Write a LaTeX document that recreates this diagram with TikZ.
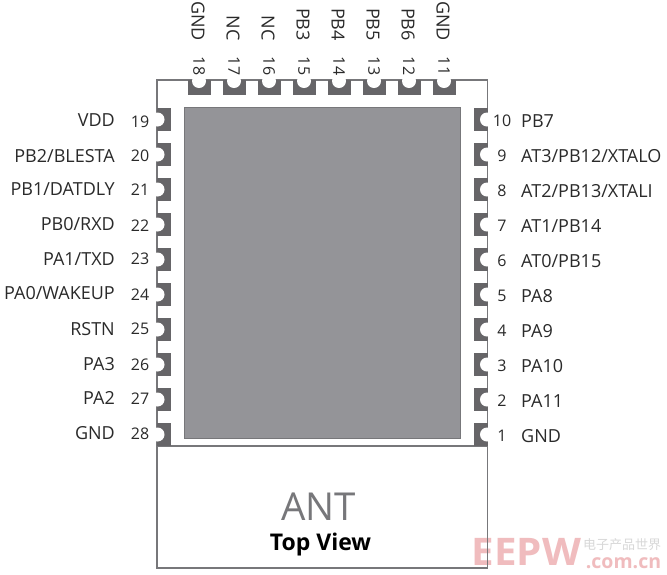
\documentclass[tikz,border=0pt]{standalone}
\usepackage{fontspec}
\setmainfont{Open Sans}
\newfontfamily\cjkfont{Noto Sans CJK SC}
\definecolor{padgray}{HTML}{666568}
\definecolor{coregray}{HTML}{949498}
\definecolor{coreedge}{HTML}{77777A}
\definecolor{linegray}{HTML}{77777A}
\definecolor{textgray}{HTML}{2A2A2A}
\definecolor{wm}{HTML}{F0BCBE}
\definecolor{wmt}{HTML}{D8D8D8}
\tikzset{
  pad/.style={fill=padgray,draw=none},
  notch/.style={fill=white,draw=none},
  pinname/.style={font=\fontsize{18}{20}\selectfont,text=textgray,inner sep=0pt},
  pinnum/.style={font=\fontsize{16}{18}\selectfont,text=textgray,inner sep=0pt},
  outline/.style={draw=linegray,line width=1.2pt}
}
\begin{document}
\begin{tikzpicture}[x=1pt,y=-1pt]
\useasboundingbox[fill=white] (0,0) rectangle (667,574);
% watermark
\node[inner sep=0pt,anchor=center,text=wm,xscale=1.06,font=\fontsize{38}{38}\selectfont\bfseries] (wmark) at (526.5,552) {EEPW};
\node[inner sep=0pt,text=wmt,font=\cjkfont\fontsize{13}{13}\selectfont] (wmcn) at (622,545) {电子产品世界};
\node[inner sep=0pt,text=wm,font=\fontsize{19.5}{20}\selectfont\bfseries] (wmcom) at (623.5,563) {.com.cn};
% module body
\draw[outline] (157,80) rectangle (487.5,568);
\draw[outline] (157,446) -- (487.5,446);
\fill[coregray,draw=coreedge,line width=1pt] (184,107.5) rectangle (460,438);
% top pads
\foreach \n/\x/\lab [count=\i] in {18/199/GND,17/234/NC,16/269/NC,15/304/PB3,14/339/PB4,13/374/PB5,12/409/PB6,11/444/GND}{
  \fill[pad] (\x-11.5,80) rectangle (\x+11.5,95);
  \fill[notch] (\x,81) circle (7);
  \node[pinnum,rotate=-90] (num\n) at (\x,66) {\n};
  \node[pinname,rotate=-90,anchor=east] (pin\n) at (\x-1,41) {\lab};
}
% left pads
\foreach \n/\y/\lab/\ly/\ny in {19/119.5/VDD/120/122,20/154.5/PB2\slash BLESTA/156/156,21/189.5/PB1\slash DATDLY/189/190,22/224.5/PB0\slash RXD/224/226,23/259.5/PA1\slash TXD/259/259,24/294.5/PA0\slash WAKEUP/293/295,25/329.5/RSTN/329/329,26/364.5/PA3/364/365,27/399.5/PA2/398/399,28/434.5/GND/433/434}{
  \fill[pad] (157,\y-11.5) rectangle (170.5,\y+11.5);
  \fill[notch] (157.5,\y) circle (7);
  \node[pinnum] (num\n) at (140,\ny) {\n};
  \node[pinname,anchor=east] (pin\n) at (115,\ly) {\lab};
}
% right pads
\foreach \n/\y/\lab in {10/119.5/PB7,9/154.5/AT3\slash PB12\slash XTALO,8/189.5/AT2\slash PB13\slash XTALI,7/224.5/AT1\slash PB14,6/259.5/AT0\slash PB15,5/294.5/PA8,4/329.5/PA9,3/364.5/PA10,2/399.5/PA11,1/434.5/GND}{
  \fill[pad] (473.5,\y-11.5) rectangle (487.5,\y+11.5);
  \fill[notch] (487,\y) circle (7);
  \node[pinnum] (num\n) at (502,\y+1.5) {\n};
  \node[pinname,anchor=west] (pin\n) at (521,\y+1.5) {\lab};
}
% captions
\node[inner sep=0pt,text=linegray,font=\fontsize{38.5}{38}\selectfont] (ant) at (318.5,507) {ANT};
\node[inner sep=0pt,text=black,font=\fontsize{23}{24}\selectfont\bfseries] (topview) at (320.5,545) {Top View};
\end{tikzpicture}
\end{document}
